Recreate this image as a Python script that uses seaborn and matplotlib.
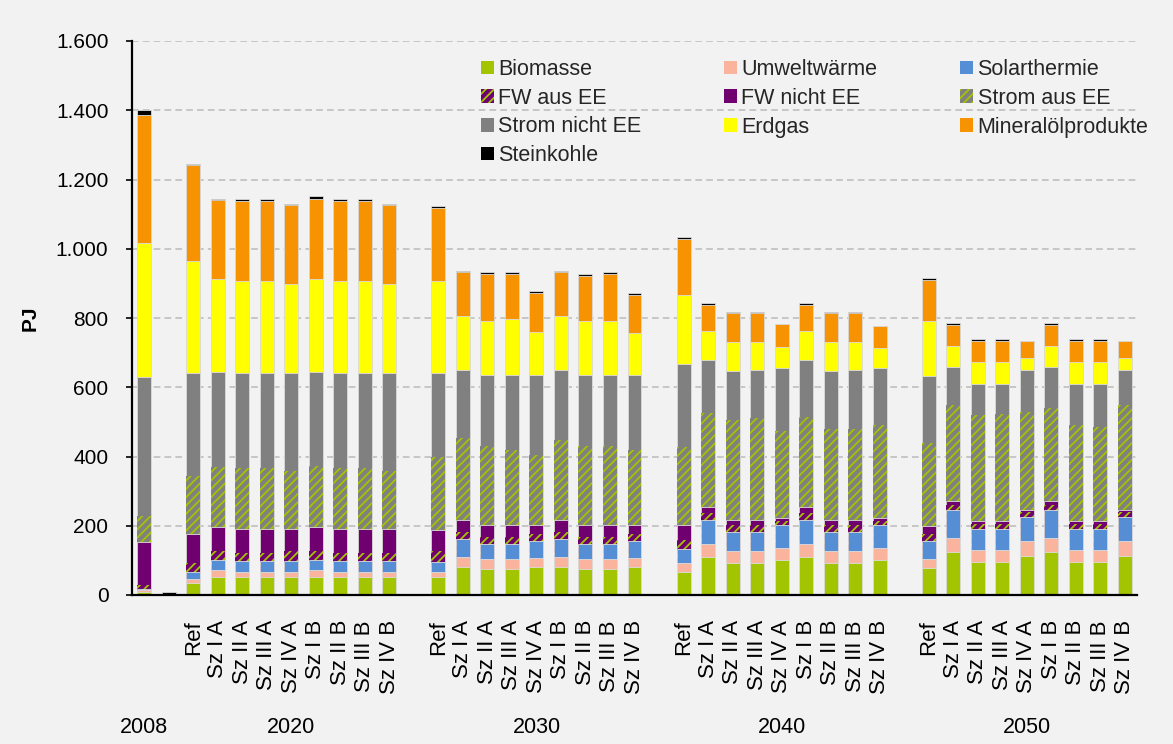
import numpy as np
import pandas as pd
import matplotlib
matplotlib.use("Agg")
import matplotlib.pyplot as plt
import seaborn as sns
from matplotlib.patches import Patch
from matplotlib.ticker import FuncFormatter

G = np.nan  # empty slot between year groups

# category slots (None = empty slot)
bar_labels = ["", "",
              "Ref", "Sz I A", "Sz II A", "Sz III A", "Sz IV A", "Sz I B", "Sz II B", "Sz III B", "Sz IV B", None,
              "Ref", "Sz I A", "Sz II A", "Sz III A", "Sz IV A", "Sz I B", "Sz II B", "Sz III B", "Sz IV B", None,
              "Ref", "Sz I A", "Sz II A", "Sz III A", "Sz IV A", "Sz I B", "Sz II B", "Sz III B", "Sz IV B", None,
              "Ref", "Sz I A", "Sz II A", "Sz III A", "Sz IV A", "Sz I B", "Sz II B", "Sz III B", "Sz IV B"]
year_labels = ["2008", "2020", "2030", "2040", "2050"]
year_slots = [[0], [2, 10], [12, 20], [22, 30], [32, 40]]

biomasse = [10, 0,
            36, 51, 51, 51, 51, 51, 51, 51, 51, G,
            52, 81, 76, 76, 82, 81, 76, 76, 82, G,
            67, 111, 91, 91, 102, 111, 91, 91, 102, G,
            79, 125, 94, 94, 114, 125, 94, 94, 114]
umweltwaerme = [3, 0,
                11, 21, 15, 15, 15, 21, 15, 15, 15, G,
                14, 30, 27, 27, 24, 30, 27, 27, 24, G,
                25, 36, 36, 36, 34, 36, 36, 36, 34, G,
                26, 41, 37, 37, 41, 41, 37, 37, 41]
solarthermie = [3, 0,
                19, 30, 31, 31, 31, 30, 31, 31, 31, G,
                30, 51, 44, 44, 51, 51, 44, 44, 51, G,
                41, 70, 56, 56, 67, 70, 56, 56, 67, G,
                50, 80, 59, 59, 71, 80, 59, 59, 71]
fw_aus_ee = [14, 0,
             26, 25, 24, 24, 30, 25, 24, 24, 24, G,
             30, 20, 20, 20, 20, 20, 20, 20, 20, G,
             25, 21, 20, 20, 10, 21, 20, 20, 10, G,
             21, 15, 14, 14, 15, 15, 14, 14, 15]
fw_nicht_ee = [122, 0,
               85, 69, 71, 71, 65, 69, 71, 71, 71, G,
               61, 34, 34, 34, 24, 34, 34, 34, 24, G,
               45, 16, 14, 14, 10, 16, 14, 14, 10, G,
               24, 10, 10, 10, 5, 10, 10, 10, 5]
strom_aus_ee = [76, 0,
                167, 173, 174, 174, 167, 178, 174, 174, 167, G,
                211, 238, 228, 218, 204, 233, 228, 228, 218, G,
                225, 272, 289, 293, 252, 261, 263, 263, 267, G,
                238, 277, 305, 310, 282, 268, 278, 270, 302]
strom_nicht_ee = [403, 0,
                  296, 276, 274, 274, 281, 271, 274, 274, 281, G,
                  242, 196, 205, 215, 229, 201, 205, 205, 215, G,
                  238, 154, 140, 141, 181, 165, 166, 171, 166, G,
                  195, 111, 90, 85, 121, 120, 117, 125, 101]
erdgas = [386, 0,
          324, 268, 268, 268, 258, 268, 268, 268, 258, G,
          266, 156, 157, 162, 127, 156, 157, 157, 122, G,
          201, 83, 86, 81, 61, 83, 86, 81, 56, G,
          157, 60, 65, 65, 35, 60, 65, 65, 35]
mineraloel = [369, 0,
              277, 227, 231, 231, 227, 231, 231, 231, 227, G,
              211, 126, 136, 131, 111, 126, 131, 136, 110, G,
              162, 75, 81, 81, 65, 75, 81, 81, 65, G,
              120, 61, 60, 60, 50, 61, 60, 60, 50]
steinkohle = [14, 10,
              5, 5, 6, 6, 4, 7, 6, 6, 4, G,
              6, 5, 5, 5, 5, 5, 6, 5, 6, G,
              5, 5, 4, 4, 0, 5, 4, 4, 0, G,
              6, 5, 5, 5, 0, 5, 5, 5, 0]

series_names = ["Biomasse", "Umweltwärme", "Solarthermie", "FW aus EE", "FW nicht EE",
                "Strom aus EE", "Strom nicht EE", "Erdgas", "Mineralölprodukte", "Steinkohle"]
series_values = [biomasse, umweltwaerme, solarthermie, fw_aus_ee, fw_nicht_ee,
                 strom_aus_ee, strom_nicht_ee, erdgas, mineraloel, steinkohle]
face_colors = ["#A3C400", "#FAB49E", "#558ED5", "#700070", "#700070",
               "#808080", "#808080", "#FFFF00", "#F79200", "#000000"]
stripe_colors = [None, None, None, "#A3C400", None, "#A3C400", None, None, None, None]

BG = "#F2F2F2"
sns.set_theme(style="white")
plt.rcParams["font.family"] = ["Liberation Sans", "DejaVu Sans"]
plt.rcParams["hatch.linewidth"] = 1.3

fig = plt.figure(figsize=(11.73, 7.44), dpi=100, facecolor=BG)
ax = fig.add_axes([132 / 1173, 1 - 595 / 744, 1005 / 1173, 554 / 744])
ax.set_facecolor(BG)

# one row per non-empty slot
pos = [i for i, l in enumerate(bar_labels) if l is not None]
df = pd.DataFrame({"pos": pos})
for name, vals in zip(series_names, series_values):
    df[name] = [vals[i] for i in pos]
cum = df[series_names].cumsum(axis=1)
for name in series_names:
    df["cum_" + name] = cum[name]

# draw cumulative layers from top to bottom
for k in range(len(series_names) - 1, -1, -1):
    name = series_names[k]
    if stripe_colors[k] is not None:
        sns.barplot(data=df, x="pos", y="cum_" + name, native_scale=True, width=0.57,
                    color=face_colors[k], saturation=1, errorbar=None,
                    edgecolor=stripe_colors[k], linewidth=0, hatch="////", ax=ax)
    else:
        sns.barplot(data=df, x="pos", y="cum_" + name, native_scale=True, width=0.57,
                    color=face_colors[k], saturation=1, errorbar=None,
                    edgecolor="#DCDCDC", linewidth=0.6, ax=ax)

ax.set_xlim(-0.5, len(bar_labels) - 0.5)
ax.set_ylim(0, 1600)
ax.set_yticks(np.arange(0, 1601, 200))
ax.yaxis.set_major_formatter(FuncFormatter(lambda v, p: f"{int(v):,}".replace(",", ".")))
ax.set_xticks(pos)
ax.set_xticklabels([bar_labels[i] for i in pos], rotation=90, va="top", ha="center")
ax.tick_params(axis="x", length=0, pad=18, labelsize=16, colors="black")
ax.tick_params(axis="y", length=4, width=1.2, pad=13, labelsize=15, colors="black", left=True)

ax.yaxis.grid(True, color="#BFBFBF", linestyle=(0, (4, 2.5)), linewidth=1.2)
ax.xaxis.grid(False)
ax.set_axisbelow(True)
for s in ["top", "right"]:
    ax.spines[s].set_visible(False)
for s in ["left", "bottom"]:
    ax.spines[s].set_color("black")
    ax.spines[s].set_linewidth(1.6)

ax.set_xlabel("")
ax.set_ylabel("PJ", fontsize=15, fontweight="bold", color="black")
ax.yaxis.set_label_coords(-0.092, 0.5)

for lab, sl in zip(year_labels, year_slots):
    xc = (sl[0] + sl[-1]) / 2
    ax.text(xc, -0.24, lab, transform=ax.get_xaxis_transform(), ha="center", va="center",
            fontsize=15.5, color="black")

# legend, row-wise order in 3 columns
handles = {}
for k, name in enumerate(series_names):
    if stripe_colors[k] is not None:
        handles[name] = Patch(facecolor=face_colors[k], edgecolor=stripe_colors[k],
                              linewidth=0, hatch="////")
    else:
        handles[name] = Patch(facecolor=face_colors[k], edgecolor="none", linewidth=0)
order = ["Biomasse", "FW aus EE", "Strom nicht EE", "Steinkohle",
         "Umweltwärme", "FW nicht EE", "Erdgas",
         "Solarthermie", "Strom aus EE", "Mineralölprodukte"]
leg = fig.legend([handles[n] for n in order], order, ncol=3, loc="upper left",
                 bbox_to_anchor=(481 / 1173, 1 - 59 / 744), frameon=False,
                 fontsize=15.5, handlelength=0.6, handleheight=0.6, handletextpad=0.2,
                 labelspacing=0.36, columnspacing=3.85, borderpad=0, borderaxespad=0)

fig.savefig("out.png", dpi=100, facecolor=BG)
